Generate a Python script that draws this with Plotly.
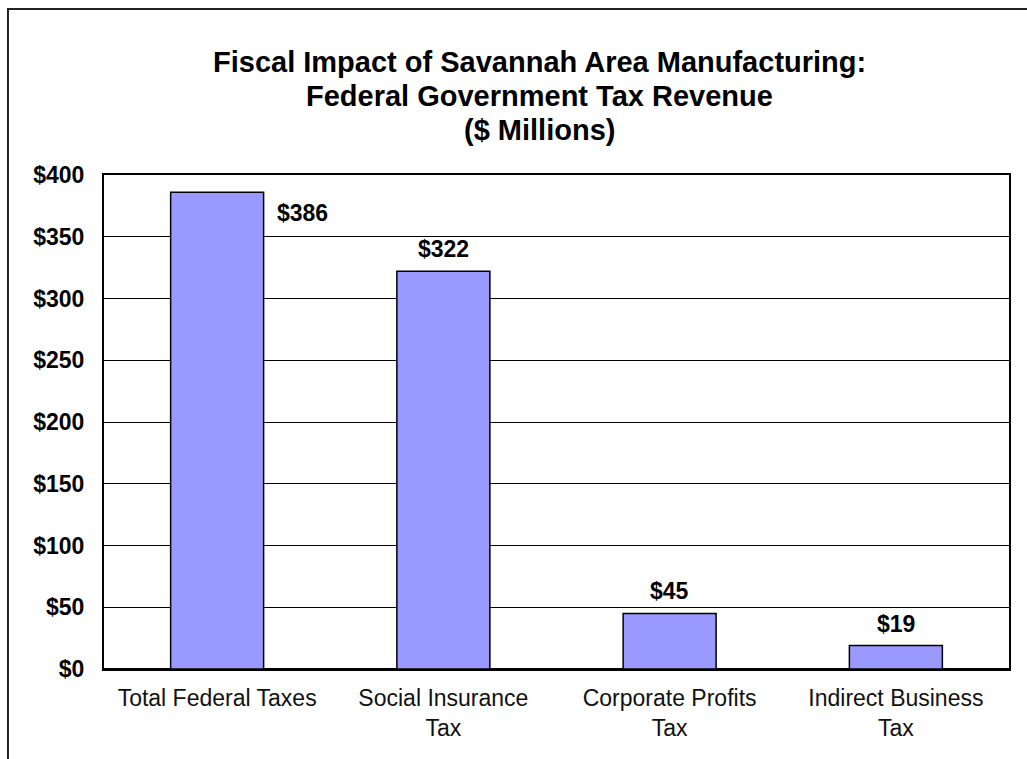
import plotly.graph_objects as go

# Federal tax revenue generated by Savannah-area manufacturing ($ millions)
categories = [
    "Total Federal Taxes",
    "Social Insurance<br>Tax",
    "Corporate Profits<br>Tax",
    "Indirect Business<br>Tax",
]
revenue = [386, 322, 45, 19]
y_ticks = [0, 50, 100, 150, 200, 250, 300, 350, 400]
y_tick_labels = [f"${v}" for v in y_ticks]
value_labels = [f"${v}" for v in revenue]

title_lines = [
    "Fiscal Impact of Savannah Area Manufacturing:",
    "Federal Government Tax Revenue",
    "($ Millions)",
]

FONT = "Liberation Sans, Arial, sans-serif"

fig = go.Figure(
    go.Bar(
        x=categories,
        y=revenue,
        marker=dict(color="#9999FF", line=dict(color="black", width=1.5)),
        hoverinfo="skip",
    )
)

# value labels: the tallest bar carries its label beside the top
label_shift = [(85, -21), (0, 22), (0, 22), (0, 22)]
for cat, val, txt, (dx, dy) in zip(categories, revenue, value_labels, label_shift):
    fig.add_annotation(
        x=cat, y=val, text=txt, showarrow=False,
        xshift=dx, yshift=dy, yanchor="middle",
        font=dict(family=FONT, size=23, color="black", weight="bold"),
    )

# three-line chart heading
for i, line in enumerate(title_lines):
    fig.add_annotation(
        xref="paper", yref="paper", x=0.4807, y=(669 - 62 - 34 * i) / 494,
        text=line, showarrow=False, xanchor="center", yanchor="middle",
        font=dict(family=FONT, size=29, color="black", weight="bold"),
    )

# outer chart frame (left and top edges)
fig.add_shape(
    type="path", xref="paper", yref="paper",
    path="M -0.1061 -0.2 L -0.1061 1.336 L 1.05 1.336",
    line=dict(color="#222222", width=2),
)

fig.update_layout(
    width=1027, height=759,
    margin=dict(l=104, r=18, t=175, b=90),
    paper_bgcolor="white", plot_bgcolor="white",
    bargap=0.589,
    showlegend=False,
    font=dict(family=FONT, color="black"),
)

fig.update_yaxes(
    range=[0, 400], tickvals=y_ticks, ticktext=y_tick_labels,
    showgrid=True, gridcolor="black", gridwidth=1,
    showline=True, linecolor="black", linewidth=2, mirror=True,
    zeroline=True, zerolinecolor="black", zerolinewidth=2,
    ticks="", ticklabelstandoff=13,
    tickfont=dict(family=FONT, size=23, color="black", weight="bold"),
    fixedrange=True,
)
fig.update_xaxes(
    showline=True, linecolor="black", linewidth=2, mirror=True,
    ticks="", ticklabelstandoff=7,
    tickfont=dict(family=FONT, size=23, color="#111111"),
    fixedrange=True,
)

fig.write_html("out.html")
